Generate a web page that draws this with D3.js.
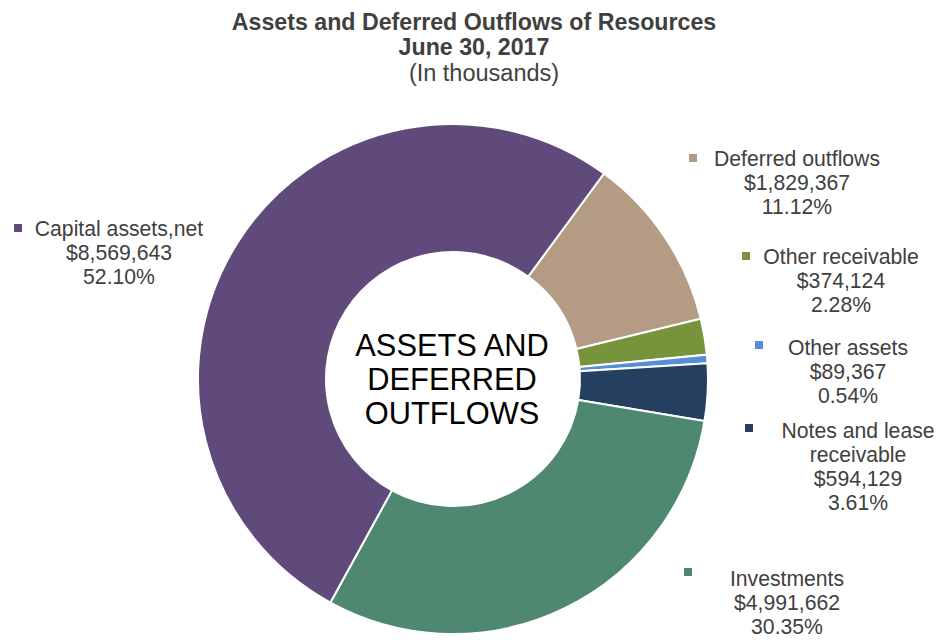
<!DOCTYPE html>
<html>
<head>
<meta charset="utf-8">
<script src="https://cdn.jsdelivr.net/npm/d3@7"></script>
<style>
  body { margin: 0; background: #fff; }
  text { font-family: 'Liberation Sans', Arial, sans-serif; }
</style>
</head>
<body>
<div id="viz"></div>
<script>
// slices in clockwise order, starting from the top right
const categories = ['Deferred outflows', 'Other receivable', 'Other assets',
  'Notes and lease\nreceivable', 'Investments', 'Capital assets,net'];
const amounts = [1829367, 374124, 89367, 594129, 4991662, 8569643];
const percents = ['11.12%', '2.28%', '0.54%', '3.61%', '30.35%', '52.10%'];

const colours = ['#B49C84', '#77933C', '#558ED5', '#243F60', '#4F8870', '#604A7B'];

// where each label block sits (centre x of text, first line y, key square)
const labelLayout = [
  { x: 797, y: 158, kx: 693, ky: 158 },
  { x: 841, y: 256, kx: 746, ky: 256 },
  { x: 848, y: 347, kx: 759, ky: 345 },
  { x: 858, y: 430, kx: 749, ky: 428 },
  { x: 787, y: 578, kx: 688, ky: 572 },
  { x: 119, y: 228, kx: 18, ky: 228 },
];

const width = 938;
const height = 640;
const cx = 453;
const cy = 379;
const outerR = 255;
const innerR = 127;
const start = 36.3 * Math.PI / 180;

const dataset = categories.map((c, i) => ({
  name: c, amount: amounts[i], pct: percents[i], colour: colours[i], pos: labelLayout[i],
}));

const svg = d3.select('#viz')
  .append('svg')
  .attr('width', width)
  .attr('height', height);

// title
const title = svg.append('g').attr('fill', '#404040').attr('text-anchor', 'middle');
title.append('text').attr('x', 474).attr('y', 30)
  .style('font-size', '23.2px').style('font-weight', 'bold')
  .text('Assets and Deferred Outflows of Resources');
title.append('text').attr('x', 474).attr('y', 55)
  .style('font-size', '23.2px').style('font-weight', 'bold')
  .text('June 30, 2017');
title.append('text').attr('x', 484).attr('y', 81)
  .style('font-size', '23.5px')
  .text('(In thousands)');

const pie = d3.pie()
  .value(d => d.amount)
  .sort(null)
  .startAngle(start)
  .endAngle(start + 2 * Math.PI);

const arc = d3.arc()
  .innerRadius(innerR)
  .outerRadius(outerR);

const donut = svg.append('g')
  .attr('transform', `translate(${cx}, ${cy})`);

donut.selectAll('path')
  .data(pie(dataset))
  .enter()
  .append('path')
  .attr('d', arc)
  .attr('fill', d => d.data.colour)
  .attr('stroke', '#fff')
  .attr('stroke-width', 2);

// centre text
const centreLines = ['ASSETS AND', 'DEFERRED', 'OUTFLOWS'];
donut.append('text')
  .attr('text-anchor', 'middle')
  .attr('fill', '#000')
  .style('font-size', '30.8px')
  .selectAll('tspan')
  .data(centreLines)
  .enter()
  .append('tspan')
  .attr('x', -1)
  .attr('y', (d, i) => -34 + i * 34)
  .attr('dy', '0.36em')
  .text(d => d);

// data labels with legend keys
const fmt = d3.format('$,');
const labels = svg.selectAll('g.label')
  .data(dataset)
  .enter()
  .append('g')
  .attr('class', 'label');

labels.append('rect')
  .attr('x', d => d.pos.kx - 4)
  .attr('y', d => d.pos.ky - 4)
  .attr('width', 8)
  .attr('height', 8)
  .attr('fill', d => d.colour);

labels.append('text')
  .attr('text-anchor', 'middle')
  .attr('fill', '#404040')
  .style('font-size', '21.2px')
  .each(function (d) {
    const lines = d.name.split('\n').concat([fmt(d.amount), d.pct]);
    d3.select(this).selectAll('tspan')
      .data(lines)
      .enter()
      .append('tspan')
      .attr('x', d.pos.x)
      .attr('y', (l, i) => d.pos.y + i * 24)
      .attr('dy', '0.36em')
      .text(l => l);
  });
</script>
</body>
</html>
